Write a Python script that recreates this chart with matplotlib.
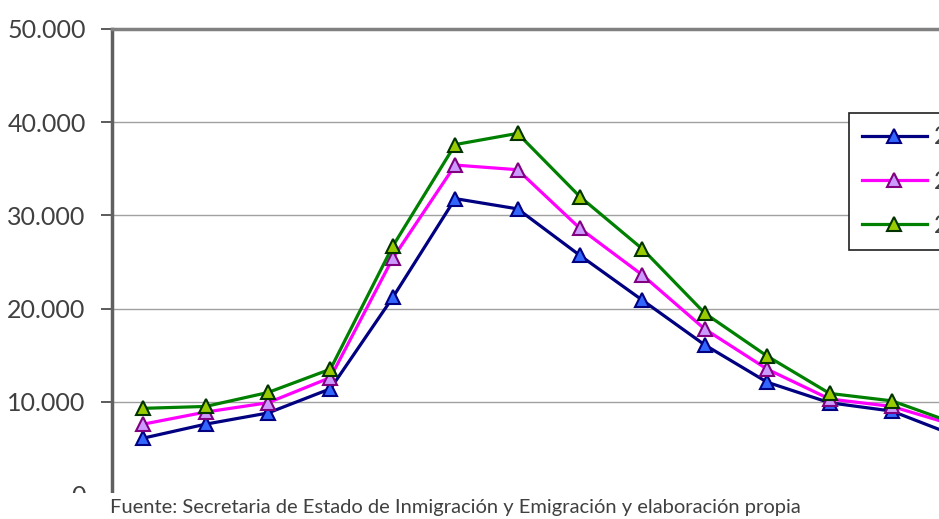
import matplotlib
matplotlib.use("Agg")
import matplotlib.pyplot as plt
from matplotlib.ticker import FuncFormatter, MultipleLocator
from matplotlib.patches import Rectangle

# age groups (only the first ones are visible in the cropped chart)
grupos = ["0-4", "5-9", "10-14", "15-19", "20-24", "25-29", "30-34", "35-39",
          "40-44", "45-49", "50-54", "55-59", "60-64", "65-69"]
serie_1 = [6100, 7600, 8800, 11400, 21200, 31800, 30700, 25700,
           20900, 16100, 12100, 9900, 9000, 6400]
serie_2 = [7600, 8900, 9900, 12600, 25400, 35400, 34900, 28600,
           23600, 17800, 13500, 10300, 9500, 7500]
serie_3 = [9300, 9500, 11000, 13500, 26700, 37600, 38800, 32000,
           26400, 19500, 14900, 10900, 10100, 7700]
etiquetas = ["2007", "2008", "2009"]
fuente = "Fuente: Secretaria de Estado de Inmigración y Emigración y elaboración propia"

W, H = 939, 519
fig = plt.figure(figsize=(W / 100, H / 100), dpi=100)
# axes runs past the right edge, the original picture is cropped there
x0, x1, ytop, ybot = 112, 112 + 62.4 * 15, 29, 495
ax = fig.add_axes([x0 / W, 1 - ybot / H, (x1 - x0) / W, (ybot - ytop) / H])

estilos = [
    dict(color="#000080", mfc="#3366FF", mec="#000080"),
    dict(color="#FF00FF", mfc="#CC99FF", mec="#800080"),
    dict(color="#008000", mfc="#99CC00", mec="#003300"),
]
x = range(len(grupos))
for ys, lab, st in zip([serie_1, serie_2, serie_3], etiquetas, estilos):
    ax.plot(x, ys, color=st["color"], lw=2.3, marker="^", ms=10,
            mfc=st["mfc"], mec=st["mec"], mew=1.5, label=lab, zorder=3)

ax.set_xlim(-0.5, 14.5)
ax.set_ylim(0, 50000)
ax.yaxis.set_major_locator(MultipleLocator(10000))
ax.yaxis.set_major_formatter(FuncFormatter(lambda v, p: f"{int(v):,}".replace(",", ".")))
ax.grid(axis="y", color="#A0A0A0", lw=1)
ax.set_axisbelow(True)
ax.set_xticks([])
ax.tick_params(axis="y", length=8, width=1.2, color="#404040", pad=11,
               labelsize=18, labelcolor="#404040")
for lab in ax.get_yticklabels():
    lab.set_fontfamily("Lato")
ax.spines["left"].set_color("#606060")
ax.spines["left"].set_linewidth(2.5)
ax.spines["top"].set_color("#808080")
ax.spines["top"].set_linewidth(2.5)
ax.spines["right"].set_visible(False)
ax.spines["bottom"].set_color("#808080")

leg = ax.legend(loc="upper left", bbox_to_anchor=(849 / W, 1 - 113 / H),
                bbox_transform=fig.transFigure, fontsize=18, frameon=True,
                fancybox=False, edgecolor="#202020", framealpha=1,
                handlelength=2.6, labelspacing=0.85, borderpad=0.5,
                handletextpad=0.3, borderaxespad=0)
leg.get_frame().set_linewidth(1.2)
for t in leg.get_texts():
    t.set_color("#404040")
    t.set_fontfamily("Lato")

# white band over the bottom of the axis, holding the source note
fig.patches.append(Rectangle((0, 0), 1, (H - 493) / H, transform=fig.transFigure,
                             facecolor="white", edgecolor="none", zorder=10))
fig.text(110 / W, 1 - 507 / H, fuente, fontsize=14.5, color="#404040",
         family="Lato", va="center", ha="left", zorder=11)

fig.savefig("out.png", dpi=100)
